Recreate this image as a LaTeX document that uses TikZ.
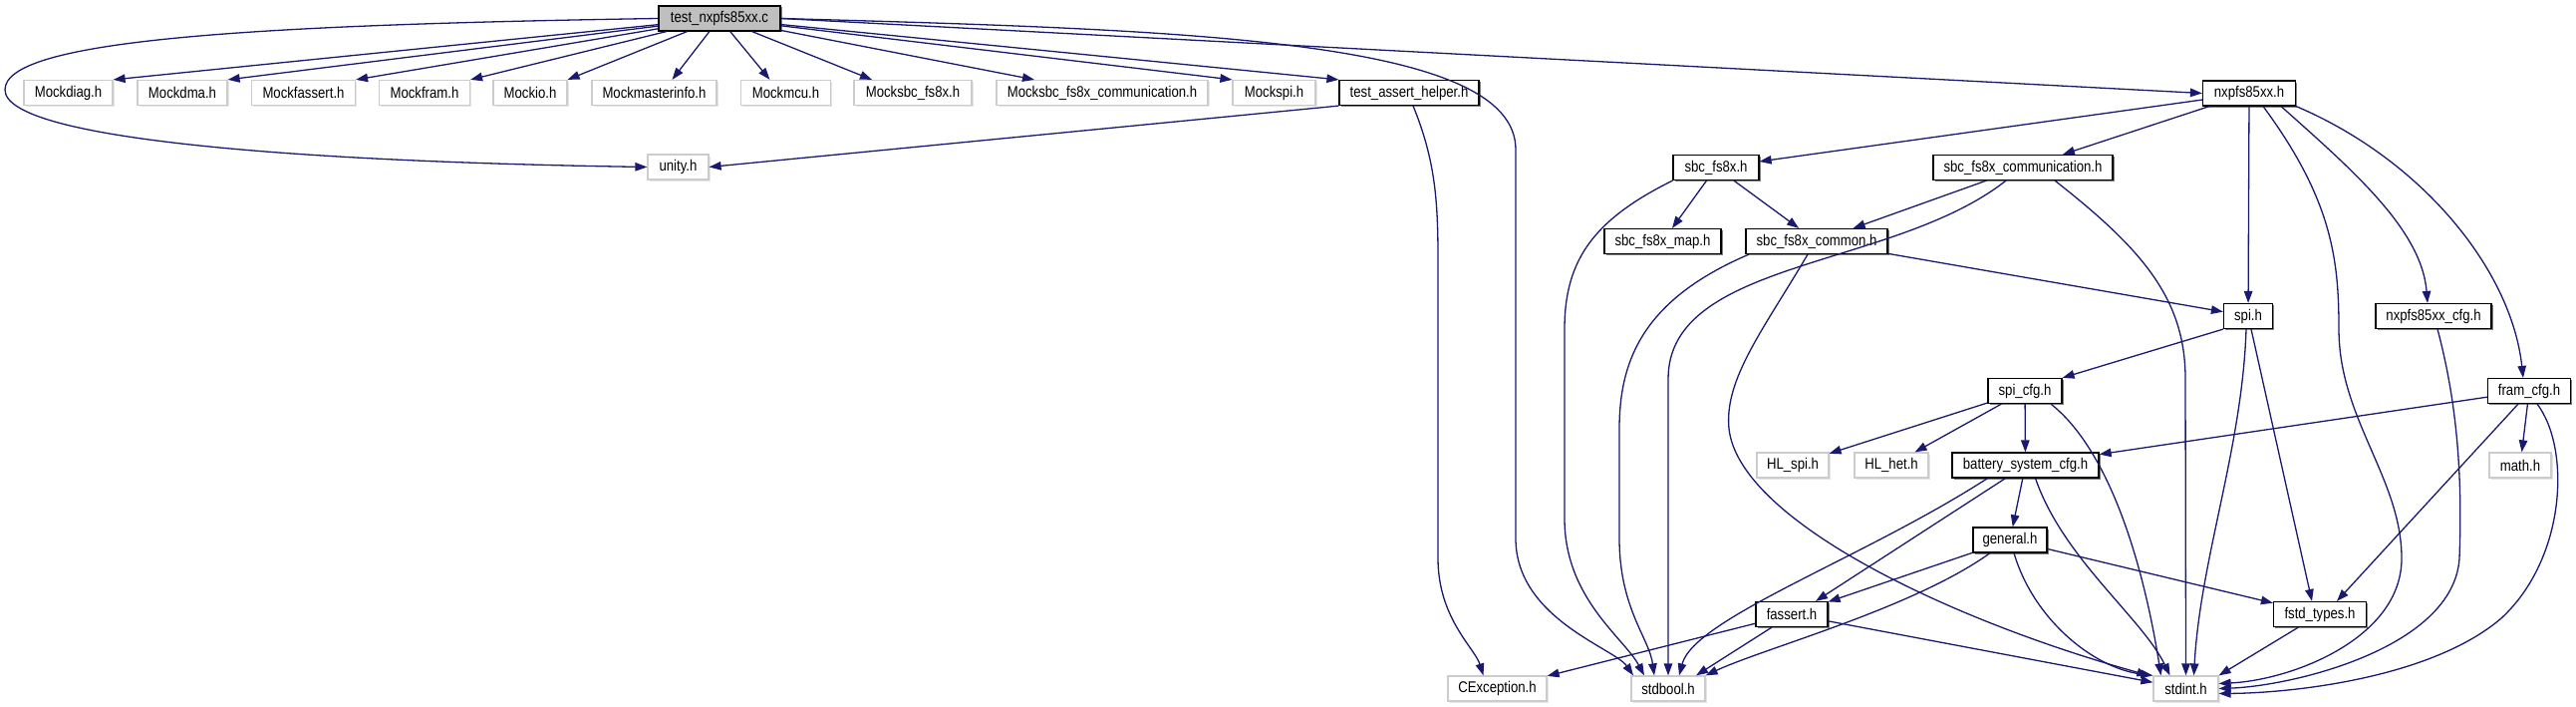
\documentclass[tikz,border=0pt]{standalone}
\usepackage{fontspec}
\setmainfont{Liberation Sans}[FakeStretch=0.85]
\usepackage{xcolor}
\usepackage{tikz}
\usetikzlibrary{
  arrows.meta,
  shadows
}
\definecolor{inclblue}{HTML}{191970}
\definecolor{shadowgray}{HTML}{808080}
\tikzset{
  >={Triangle[length=12pt,width=8.5pt]},
  line cap=round,
  line join=round,
  filebox/.style={draw, rectangle, minimum height=25pt, inner sep=0pt, fill=white, line width=1.2pt,
    font=\fontsize{15.5}{18}\selectfont},
  hdrbox/.style={filebox, draw=black, drop shadow={shadow xshift=1.5pt, shadow yshift=-1.5pt, fill=shadowgray, opacity=1}},
  extbox/.style={filebox, draw=gray!40, drop shadow={shadow xshift=1.5pt, shadow yshift=-1.5pt, fill=gray!20, opacity=1}},
  srcbox/.style={hdrbox, fill=gray!50},
  incl/.style={->, draw=inclblue, line width=1.3pt}
}

\begin{document}
\begin{tikzpicture}[x=1pt, y=-1pt]
    \useasboundingbox (0,0) rectangle (2585,709);

    \node[srcbox, minimum width=122pt] (root) at (722,18.5) {test\_nxpfs85xx.c};

    \node[extbox, minimum width=89pt]  (mdiag)    at (68.5,93)  {Mockdiag.h};
    \node[extbox, minimum width=90pt]  (mdma)     at (183,93)   {Mockdma.h};
    \node[extbox, minimum width=104pt] (mfassert) at (304.5,93) {Mockfassert.h};
    \node[extbox, minimum width=91pt]  (mfram)    at (426,93)   {Mockfram.h};
    \node[extbox, minimum width=74pt]  (mio)      at (532,93)   {Mockio.h};
    \node[extbox, minimum width=125pt] (mmaster)  at (656.5,93) {Mockmasterinfo.h};
    \node[extbox, minimum width=90pt]  (mmcu)     at (788.5,93) {Mockmcu.h};
    \node[extbox, minimum width=118pt] (msbc)     at (916,93)   {Mocksbc\_fs8x.h};
    \node[extbox, minimum width=212pt] (msbccomm) at (1106,93)  {Mocksbc\_fs8x\_communication.h};
    \node[extbox, minimum width=83pt]  (mspi)     at (1278.5,93) {Mockspi.h};
    \node[hdrbox, minimum width=140pt] (tah)      at (1414,93)  {test\_assert\_helper.h};
    \node[hdrbox, minimum width=93pt]  (nxp)      at (2257,93.5) {nxpfs85xx.h};

    \node[extbox, minimum width=61pt]  (unity)    at (680.5,167.5) {unity.h};

    \node[hdrbox, minimum width=86pt]  (sbc)       at (1722,168)   {sbc\_fs8x.h};
    \node[hdrbox, minimum width=180pt] (sbccomm)   at (2030,168)   {sbc\_fs8x\_communication.h};
    \node[hdrbox, minimum width=117pt] (sbcmap)    at (1668.5,242) {sbc\_fs8x\_map.h};
    \node[hdrbox, minimum width=142pt] (sbccommon) at (1823,242)   {sbc\_fs8x\_common.h};
    \node[hdrbox, minimum width=49pt]  (spi)       at (2256,317)   {spi.h};
    \node[hdrbox, minimum width=116pt] (nxpcfg)    at (2442,317)   {nxpfs85xx\_cfg.h};
    \node[hdrbox, minimum width=74pt]  (spicfg)    at (2032,392)   {spi\_cfg.h};
    \node[hdrbox, minimum width=83pt]  (framcfg)   at (2538,392)   {fram\_cfg.h};
    \node[extbox, minimum width=72pt]  (hlspi)     at (1799,466.5) {HL\_spi.h};
    \node[extbox, minimum width=74pt]  (hlhet)     at (1898,466.5) {HL\_het.h};
    \node[hdrbox, minimum width=147pt] (battery)   at (2032.5,466.5) {battery\_system\_cfg.h};
    \node[extbox, minimum width=62pt]  (math)      at (2529,466.5) {math.h};
    \node[hdrbox, minimum width=74pt]  (general)   at (2017,541.5) {general.h};
    \node[hdrbox, minimum width=72pt]  (fassert)   at (1798,616)   {fassert.h};
    \node[hdrbox, minimum width=93pt]  (fstd)      at (2328,616)   {fstd\_types.h};
    \node[extbox, minimum width=99pt]  (cexc)      at (1502.5,690.5) {CException.h};
    \node[extbox, minimum width=74pt]  (stdbool)   at (1674,690.5) {stdbool.h};
    \node[extbox, minimum width=65pt]  (stdint)    at (2193.5,690.5) {stdint.h};

    \draw[incl] (root) -- (mdiag.north east);
    \draw[incl] (root) -- (mdma.north east);
    \draw[incl] (root) -- (mfassert.north east);
    \draw[incl] (root) -- (mfram.north east);
    \draw[incl] (root) -- (mio.north east);
    \draw[incl] (root) -- ([xshift=18pt]mmaster.north);
    \draw[incl] (root) -- ([xshift=-16pt]mmcu.north);
    \draw[incl] (root) -- ([xshift=-41pt]msbc.north);
    \draw[incl] (root) -- ([xshift=-68pt]msbccomm.north);
    \draw[incl] (root) -- (mspi.north west);
    \draw[incl] (root) -- (tah.north west);
    \draw[incl] (root.west) .. controls (250,25) and (5,40) .. (5,90)
      .. controls (5,140) and (300,162) .. (unity.west);
    \draw[incl] (root.east) -- (nxp.west);
    \draw[incl] (root.east) .. controls (1200,30) and (1521,40) .. (1521,150) -- (1521,540)
      .. controls (1521,620) and (1620,650) .. ([xshift=-35pt]stdbool.north);

    \draw[incl] (tah.south west) -- (unity.east);
    \draw[incl] ([xshift=4pt]tah.south) .. controls (1440,160) and (1443,200) .. (1443,260) -- (1443,560)
      .. controls (1443,620) and (1480,650) .. ([xshift=-14pt]cexc.north);

    \draw[incl] (nxp) -- (sbc);
    \draw[incl] (nxp) -- (sbccomm);
    \draw[incl] (nxp) -- (spi);
    \draw[incl] ([xshift=14pt]nxp.south) .. controls (2340,200) and (2347,260) .. (2347,330)
      .. controls (2347,420) and (2410,480) .. (2410,560)
      .. controls (2410,640) and (2300,682) .. ([yshift=5pt]stdint.east);
    \draw[incl] ([xshift=32pt]nxp.south) .. controls (2360,170) and (2430,230) .. ([xshift=-6pt]nxpcfg.north);
    \draw[incl] (nxp.south east) .. controls (2430,160) and (2520,270) .. ([xshift=-6pt]framcfg.north);

    \draw[incl] (sbc) -- (sbcmap);
    \draw[incl] (sbc) -- (sbccommon);
    \draw[incl] (sbc.south west) .. controls (1600,220) and (1570,260) .. (1570,330) -- (1570,520)
      .. controls (1570,600) and (1630,640) .. ([xshift=-24pt]stdbool.north);

    \draw[incl] (sbccomm) -- (sbccommon);
    \draw[incl] ([xshift=-17pt]sbccomm.south) .. controls (1900,270) and (1674,260) .. (1674,380)
      -- (stdbool.north);
    \draw[incl] ([xshift=32pt]sbccomm.south) .. controls (2150,250) and (2193,300) .. (2193,380)
      -- (stdint.north);

    \draw[incl] (sbccommon) -- (spi);
    \draw[incl] ([xshift=-68pt]sbccommon.south) .. controls (1650,300) and (1625,360) .. (1625,430) -- (1625,540)
      .. controls (1625,610) and (1655,640) .. ([xshift=-14pt]stdbool.north);
    \draw[incl] ([xshift=-9pt]sbccommon.south) .. controls (1770,330) and (1730,380) .. (1735,430)
      .. controls (1745,520) and (1950,620) .. ([xshift=-4pt]stdint.north west);

    \draw[incl] (spi.south west) -- (spicfg.north east);
    \draw[incl] ([xshift=-2pt]spi.south) .. controls (2250,450) and (2208,560) .. ([xshift=8pt]stdint.north);
    \draw[incl] ([xshift=3pt]spi.south) -- ([xshift=-8pt]fstd.north);

    \draw[incl] ([xshift=4pt]nxpcfg.south) .. controls (2470,420) and (2470,500) .. (2468,560)
      .. controls (2462,650) and (2300,688) .. (stdint.east);

    \draw[incl] (spicfg) -- (hlspi);
    \draw[incl] (spicfg) -- (hlhet);
    \draw[incl] (spicfg) -- (battery);
    \draw[incl] ([xshift=26pt]spicfg.south) .. controls (2115,450) and (2150,560) .. ([xshift=-25pt]stdint.north);

    \draw[incl] (framcfg) -- (battery);
    \draw[incl] (framcfg) -- (math);
    \draw[incl] ([xshift=-11pt]framcfg.south) -- ([xshift=17pt]fstd.north);
    \draw[incl] ([xshift=8pt]framcfg.south) .. controls (2580,450) and (2575,560) .. (2510,620)
      .. controls (2440,680) and (2300,695) .. ([yshift=-5pt]stdint.east);

    \draw[incl] ([xshift=-38pt]battery.south) .. controls (1870,560) and (1700,620) .. ([xshift=11pt]stdbool.north);
    \draw[incl] ([xshift=-20pt]battery.south) -- ([xshift=24pt]fassert.north);
    \draw[incl] (battery) -- (general);
    \draw[incl] ([xshift=10pt]battery.south) .. controls (2070,560) and (2150,620) .. ([xshift=-16pt]stdint.north);

    \draw[incl] (general) -- (fassert);
    \draw[incl] (general) -- (fstd);
    \draw[incl] ([xshift=-20pt]general.south) .. controls (1920,610) and (1770,650) .. (stdbool.north east);
    \draw[incl] ([xshift=4pt]general.south) .. controls (2040,620) and (2100,670) .. (stdint.north west);

    \draw[incl] (fassert) -- (cexc);
    \draw[incl] ([xshift=-20pt]fassert.south) -- ([xshift=28pt]stdbool.north);
    \draw[incl] (fassert) -- (stdint);

    \draw[incl] (fstd) -- (stdint.north east);
  \end{tikzpicture}
\end{document}
